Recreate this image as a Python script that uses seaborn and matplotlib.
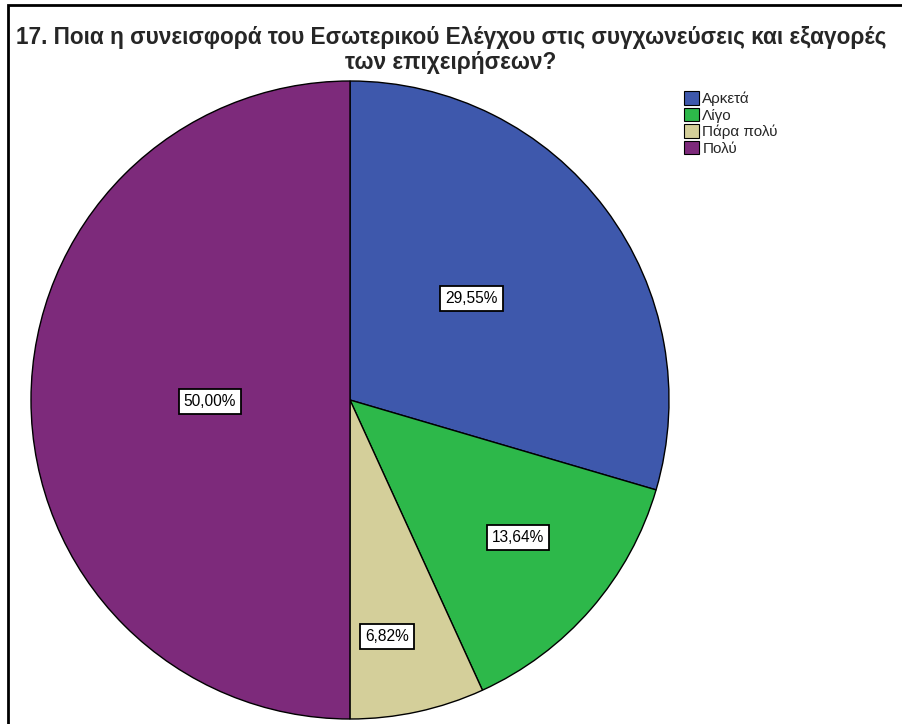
import matplotlib
matplotlib.use("Agg")
import matplotlib.pyplot as plt
from matplotlib.patches import Rectangle, Patch
import numpy as np
import seaborn as sns

sns.set_theme(style="white")
plt.rcParams["font.family"] = ["Liberation Sans", "DejaVu Sans"]

categories = ["Αρκετά", "Λίγο", "Πάρα πολύ", "Πολύ"]
percentages = [29.55, 13.64, 6.82, 50.00]
colors = ["#3e58ac", "#2db84a", "#d4cf9a", "#7d2a7b"]
# label placement: fraction of radius, and angular nudge in degrees
label_dist = [0.497, 0.68, 0.751, 0.439]
label_nudge = [3.0, 1.6, -3.3, 0.6]
title = "17. Ποια η συνεισφορά του Εσωτερικού Ελέγχου στις συγχωνεύσεις και εξαγορές\nτων επιχειρήσεων?"

W, H = 902, 724
fig = plt.figure(figsize=(W / 100, H / 100), dpi=100)
ax = fig.add_axes([0, 0, 1, 1])

cx, cy, r = 350, H - 400, 319
wedges, _ = ax.pie(
    percentages, colors=colors, startangle=90, counterclock=False,
    center=(cx, cy), radius=r, frame=True,
    wedgeprops=dict(edgecolor="black", linewidth=1.0),
)
ax.set_xlim(0, W)
ax.set_ylim(0, H)
ax.axis("off")

for w, p, d, n in zip(wedges, percentages, label_dist, label_nudge):
    ang = np.deg2rad((w.theta1 + w.theta2) / 2 + n)
    x = cx + d * r * np.cos(ang)
    y = cy + d * r * np.sin(ang)
    ax.text(x, y, f"{p:.2f}%".replace(".", ","), ha="center", va="center",
            fontsize=11.2, color="black",
            bbox=dict(boxstyle="square,pad=0.33", fc="white", ec="black", lw=1.3))

fig.text(451 / W, 1 - 50 / H, title, ha="center", va="center",
         fontsize=16.3, fontweight="bold", linespacing=1.08)

handles = [Patch(facecolor=c, edgecolor="black", linewidth=0.8) for c in colors]
fig.legend(handles, categories, loc="upper left", bbox_to_anchor=(684 / W, 1 - 91 / H),
           frameon=False, fontsize=11, handlelength=0.95, handleheight=1.0,
           handletextpad=0.25, labelspacing=0.1, borderaxespad=0, borderpad=0)

fig.add_artist(Rectangle((8 / W, -0.1), 1.2, 1 - 5 / H + 0.1, transform=fig.transFigure,
                         fill=False, edgecolor="black", linewidth=2))

fig.savefig("out.png", dpi=100)
